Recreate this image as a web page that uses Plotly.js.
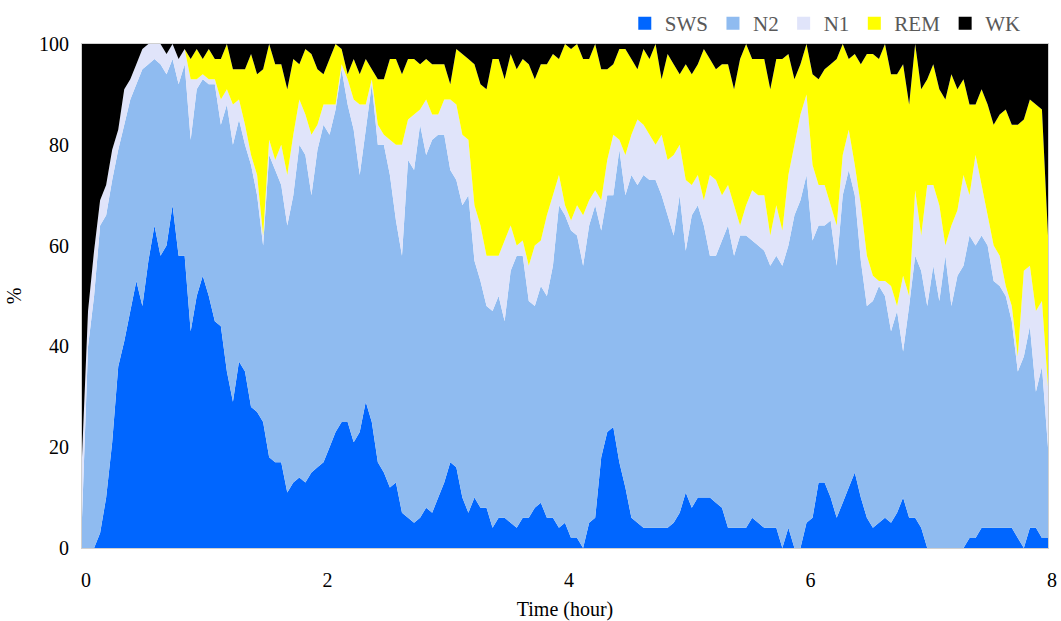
<!DOCTYPE html>
<html>
<head>
<meta charset="utf-8">
<script src="https://cdn.plot.ly/plotly-3.0.1.min.js"></script>
<style>html,body{margin:0;padding:0;background:#fff;}#chart{width:1061px;height:621px;}</style>
</head>
<body>
<div id="chart"></div>
<script>
// Time axis: one sample every 0.05 hour from 0 to 8 h
const stepHours = 0.05;
const hours = Array.from({length: 161}, (_, i) => +(i * stepHours).toFixed(2));

// Percentage of subjects in each sleep stage at each sample time
const SWS = [0,0,0,3,10,21,36,41,47,53,48,57,64,58,60,68,58,58,43,50,
  54,50,45,44,35,29,37,35,28,27,25,18,17,17,11,13,14,13,15,16,
  17,20,23,25,25,21,23,29,25,17,15,12,13,7,6,5,6,8,7,10,
  13,17,16,10,7,10,8,8,4,6,6,5,4,6,6,8,9,6,6,4,
  5,2,2,0,5,6,18,23,24,17,12,6,5,4,4,4,4,4,5,7,
  11,8,10,10,10,9,8,4,4,4,4,6,5,4,4,4,0,4,0,0,
  5,6,13,13,10,6,9,12,15,10,6,4,5,6,5,7,10,6,6,4,
  0,0,0,0,0,0,0,2,2,4,4,4,4,4,4,2,0,4,4,2,2];
const N2 = [6,40,50,61,56,52,43,43,42,39,47,39,33,38,34,29,34,38,38,41,
  39,42,47,40,53,51,48,45,48,43,35,60,58,55,53,57,66,65,55,63,
  67,62,64,70,63,62,51,54,67,63,65,62,52,51,71,70,78,70,74,72,
  69,58,57,58,63,47,45,40,43,44,39,50,54,52,43,40,43,44,50,64,
  61,61,60,56,59,62,45,47,46,62,58,68,67,70,69,69,66,62,57,63,
  48,58,58,54,48,49,53,60,54,58,58,55,55,55,52,54,56,56,66,69,
  69,55,51,51,55,50,61,63,55,47,42,45,47,44,38,40,29,42,52,51,
  48,56,49,58,48,54,56,60,58,58,56,49,48,46,41,33,38,40,27,34,18];
const N1 = [12,7,9,5,6,6,4,7,4,4,4,4,3,4,4,3,5,3,12,2,
  1,1,1,5,3,8,4,4,2,4,2,3,2,8,10,12,9,8,12,5,
  4,6,1,1,5,6,14,5,1,4,2,7,15,22,8,11,3,11,5,4,
  7,14,15,14,11,11,11,10,11,8,16,9,2,3,7,12,9,16,14,6,
  2,2,6,10,5,3,6,7,12,2,8,8,13,10,9,7,12,11,16,10,
  14,6,6,5,16,15,9,8,10,2,6,10,10,11,6,10,7,14,14,17,
  16,15,8,8,3,8,8,8,6,11,10,5,1,3,9,1,15,2,13,7,
  24,16,19,2,16,13,18,8,18,10,6,7,6,2,3,3,17,12,16,13,12];
const REM = [0,0,0,0,0,0,0,0,0,0,0,0,0,0,0,0,0,0,4,6,
  3,6,4,8,9,7,6,11,20,20,33,19,19,16,17,15,7,13,16,11,
  6,9,12,3,1,8,6,9,2,9,11,16,17,14,12,11,9,8,10,10,
  7,3,11,16,16,28,28,33,39,39,32,34,35,36,40,33,35,30,28,23,
  32,34,32,31,28,29,26,18,14,18,21,15,10,15,15,20,11,21,18,14,
  23,22,22,30,23,22,26,24,23,33,32,26,27,27,29,29,34,24,13,10,
  10,18,21,23,28,33,22,14,22,28,40,44,44,47,42,46,42,38,29,29,
  21,24,23,29,30,24,19,18,10,19,22,24,28,35,36,46,30,33,41,38,30];
const WK = [82,53,41,31,28,21,17,9,7,4,1,0,0,0,2,0,3,1,3,1,
  3,1,3,3,0,5,5,5,2,6,5,0,4,4,9,3,4,1,2,5,
  6,3,0,1,6,3,6,3,5,7,7,3,3,6,3,3,4,3,4,4,
  4,8,1,2,3,4,8,9,3,3,7,2,5,3,4,7,4,4,2,3,
  0,1,0,3,3,0,5,5,4,1,1,3,5,1,3,0,7,2,4,6,
  4,6,4,1,3,5,4,4,9,3,0,3,3,3,9,3,3,2,7,4,
  0,6,7,5,4,3,0,3,2,4,2,2,3,0,6,6,4,12,0,9,
  7,4,9,11,6,9,7,12,12,9,12,16,14,13,16,16,15,11,12,13,38];

const stageNames = ['SWS', 'N2', 'N1', 'REM', 'WK'];
const stageValues = [SWS, N2, N1, REM, WK];
const stageColors = ['#0066FF', '#8FBBF0', '#E0E4FA', '#FFFF00', '#000000'];

const areaTraces = stageNames.map((name, i) => ({
  x: hours,
  y: stageValues[i],
  name: name,
  type: 'scatter',
  mode: 'none',
  stackgroup: 'sleep',
  fill: 'tonexty',
  fillcolor: stageColors[i],
  line: {width: 0, shape: 'linear'},
  showlegend: false,
  hoverinfo: 'x+y+name'
}));

// Legend-only entries drawn as filled squares, like the reference legend
const legendTraces = stageNames.map((name, i) => ({
  x: [null],
  y: [null],
  name: name,
  type: 'scatter',
  mode: 'markers',
  marker: {symbol: 'square', size: 13, color: stageColors[i]},
  showlegend: true,
  hoverinfo: 'skip'
}));

const serif = '"Liberation Serif", "Times New Roman", "DejaVu Serif", serif';

const layout = {
  width: 1061,
  height: 621,
  paper_bgcolor: '#ffffff',
  plot_bgcolor: '#ffffff',
  margin: {l: 82, r: 13, t: 44, b: 73, autoexpand: false},
  font: {family: serif, size: 20, color: '#000000'},
  showlegend: true,
  legend: {
    orientation: 'h',
    x: 0.977, xanchor: 'right',
    y: 1.0, yanchor: 'bottom',
    traceorder: 'normal',
    font: {family: 'Liberation Serif', size: 21, color: '#595959'},
    itemwidth: 30,
    tracegroupgap: 0,
    bgcolor: 'rgba(0,0,0,0)'
  },
  xaxis: {
    range: [0, 8],
    tickvals: [0, 2, 4, 6, 8],
    ticks: '',
    ticklabelstandoff: 14,
    ticklabelshift: 4,
    showgrid: false,
    zeroline: false,
    showline: true,
    linecolor: '#d0d0d0',
    linewidth: 1,
    mirror: true,
    tickfont: {family: serif, size: 20, color: '#000000'},
    title: {text: 'Time (hour)', font: {family: serif, size: 20, color: '#000000'}, standoff: 14}
  },
  yaxis: {
    range: [0, 100],
    tickvals: [0, 20, 40, 60, 80, 100],
    ticks: '',
    ticklabelstandoff: 8,
    showgrid: false,
    zeroline: false,
    showline: true,
    linecolor: '#d0d0d0',
    linewidth: 1,
    mirror: true,
    tickfont: {family: serif, size: 20, color: '#000000'},
    title: {text: '%', font: {family: serif, size: 20, color: '#000000'}, standoff: 12}
  }
};

Plotly.newPlot('chart', areaTraces.concat(legendTraces), layout, {displayModeBar: false, staticPlot: true});
</script>
</body>
</html>
